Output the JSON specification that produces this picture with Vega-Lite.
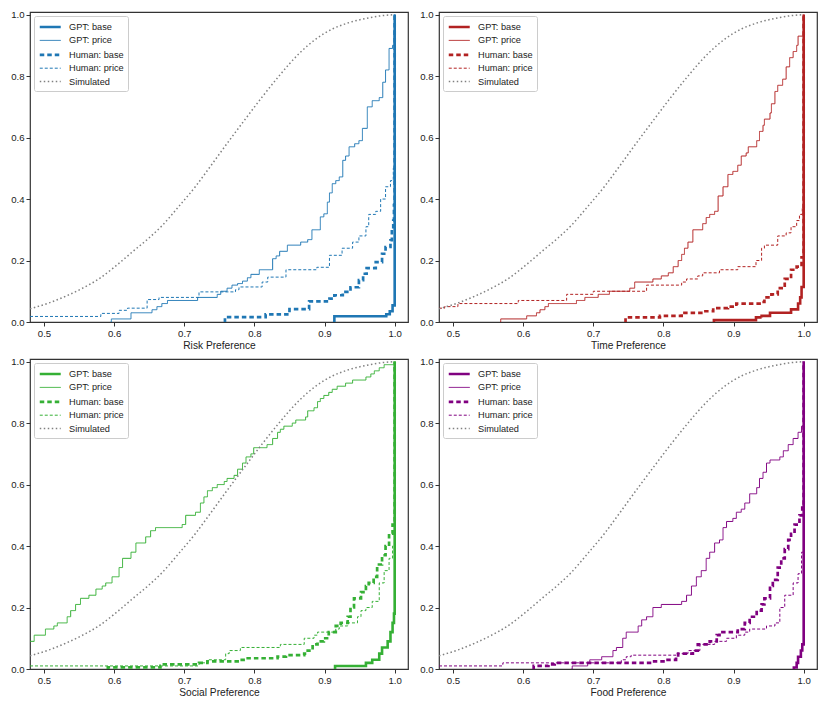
{
  "$schema": "https://vega.github.io/schema/vega-lite/v6.json",
  "padding": {"left": 10, "top": 9, "right": 4, "bottom": 4},
  "config": {
    "font": "Liberation Sans",
    "background": "white",
    "view": {"stroke": "#333333", "strokeWidth": 1.2},
    "axis": {
      "domain": false,
      "grid": false,
      "ticks": true,
      "tickColor": "#333333",
      "tickSize": 4,
      "tickWidth": 1,
      "labelFontSize": 9.6,
      "labelColor": "#222222",
      "labelPadding": 2,
      "titleFontSize": 10.2,
      "titleFontWeight": "normal",
      "titleColor": "#222222",
      "titlePadding": 3
    },
    "legend": {
      "orient": "top-left",
      "offset": 4,
      "title": null,
      "fillColor": "white",
      "strokeColor": "#cccccc",
      "padding": 4,
      "cornerRadius": 2,
      "labelFontSize": 9.2,
      "labelColor": "#222222",
      "symbolType": "M-1,0H3",
      "symbolSize": 110,
      "labelOffset": 17,
      "rowPadding": 1.4
    },
    "line": {"strokeCap": "butt"}
  },
  "datasets": {
    "sim": [
      {"x": 0.48, "y": 0.043}, {"x": 0.507, "y": 0.062}, {"x": 0.531, "y": 0.084},
      {"x": 0.555, "y": 0.11}, {"x": 0.578, "y": 0.14}, {"x": 0.6, "y": 0.178},
      {"x": 0.628, "y": 0.232}, {"x": 0.65, "y": 0.274}, {"x": 0.669, "y": 0.315},
      {"x": 0.69, "y": 0.37}, {"x": 0.716, "y": 0.441}, {"x": 0.74, "y": 0.515},
      {"x": 0.764, "y": 0.59}, {"x": 0.788, "y": 0.663}, {"x": 0.811, "y": 0.732},
      {"x": 0.835, "y": 0.8}, {"x": 0.85, "y": 0.84}, {"x": 0.864, "y": 0.874},
      {"x": 0.888, "y": 0.921}, {"x": 0.911, "y": 0.953}, {"x": 0.935, "y": 0.974},
      {"x": 0.96, "y": 0.988}, {"x": 0.98, "y": 0.996}, {"x": 1.0, "y": 1.0}
    ],
    "ecdf": [
      {"panel": "Risk", "series": "GPT: base", "x": 0.912, "y": 0},
      {"panel": "Risk", "series": "GPT: base", "x": 0.914, "y": 0.0185},
      {"panel": "Risk", "series": "GPT: base", "x": 0.988, "y": 0.025},
      {"panel": "Risk", "series": "GPT: base", "x": 0.993, "y": 0.035},
      {"panel": "Risk", "series": "GPT: base", "x": 0.997, "y": 0.054},
      {"panel": "Risk", "series": "GPT: base", "x": 1.0, "y": 1.0},

      {"panel": "Risk", "series": "GPT: price", "x": 0.595, "y": 0},
      {"panel": "Risk", "series": "GPT: price", "x": 0.596, "y": 0.01},
      {"panel": "Risk", "series": "GPT: price", "x": 0.624, "y": 0.03},
      {"panel": "Risk", "series": "GPT: price", "x": 0.654, "y": 0.04},
      {"panel": "Risk", "series": "GPT: price", "x": 0.661, "y": 0.05},
      {"panel": "Risk", "series": "GPT: price", "x": 0.668, "y": 0.06},
      {"panel": "Risk", "series": "GPT: price", "x": 0.676, "y": 0.07},
      {"panel": "Risk", "series": "GPT: price", "x": 0.719, "y": 0.08},
      {"panel": "Risk", "series": "GPT: price", "x": 0.747, "y": 0.09},
      {"panel": "Risk", "series": "GPT: price", "x": 0.752, "y": 0.1},
      {"panel": "Risk", "series": "GPT: price", "x": 0.761, "y": 0.11},
      {"panel": "Risk", "series": "GPT: price", "x": 0.768, "y": 0.12},
      {"panel": "Risk", "series": "GPT: price", "x": 0.776, "y": 0.125},
      {"panel": "Risk", "series": "GPT: price", "x": 0.783, "y": 0.133},
      {"panel": "Risk", "series": "GPT: price", "x": 0.79, "y": 0.144},
      {"panel": "Risk", "series": "GPT: price", "x": 0.795, "y": 0.155},
      {"panel": "Risk", "series": "GPT: price", "x": 0.807, "y": 0.17},
      {"panel": "Risk", "series": "GPT: price", "x": 0.826, "y": 0.206},
      {"panel": "Risk", "series": "GPT: price", "x": 0.831, "y": 0.215},
      {"panel": "Risk", "series": "GPT: price", "x": 0.836, "y": 0.23},
      {"panel": "Risk", "series": "GPT: price", "x": 0.847, "y": 0.25},
      {"panel": "Risk", "series": "GPT: price", "x": 0.866, "y": 0.26},
      {"panel": "Risk", "series": "GPT: price", "x": 0.876, "y": 0.268},
      {"panel": "Risk", "series": "GPT: price", "x": 0.882, "y": 0.3},
      {"panel": "Risk", "series": "GPT: price", "x": 0.894, "y": 0.342},
      {"panel": "Risk", "series": "GPT: price", "x": 0.899, "y": 0.352},
      {"panel": "Risk", "series": "GPT: price", "x": 0.904, "y": 0.39},
      {"panel": "Risk", "series": "GPT: price", "x": 0.907, "y": 0.42},
      {"panel": "Risk", "series": "GPT: price", "x": 0.911, "y": 0.45},
      {"panel": "Risk", "series": "GPT: price", "x": 0.916, "y": 0.46},
      {"panel": "Risk", "series": "GPT: price", "x": 0.921, "y": 0.472},
      {"panel": "Risk", "series": "GPT: price", "x": 0.926, "y": 0.526},
      {"panel": "Risk", "series": "GPT: price", "x": 0.93, "y": 0.54},
      {"panel": "Risk", "series": "GPT: price", "x": 0.935, "y": 0.57},
      {"panel": "Risk", "series": "GPT: price", "x": 0.943, "y": 0.58},
      {"panel": "Risk", "series": "GPT: price", "x": 0.949, "y": 0.59},
      {"panel": "Risk", "series": "GPT: price", "x": 0.954, "y": 0.63},
      {"panel": "Risk", "series": "GPT: price", "x": 0.961, "y": 0.7},
      {"panel": "Risk", "series": "GPT: price", "x": 0.968, "y": 0.72},
      {"panel": "Risk", "series": "GPT: price", "x": 0.978, "y": 0.73},
      {"panel": "Risk", "series": "GPT: price", "x": 0.983, "y": 0.78},
      {"panel": "Risk", "series": "GPT: price", "x": 0.987, "y": 0.82},
      {"panel": "Risk", "series": "GPT: price", "x": 0.992, "y": 0.89},
      {"panel": "Risk", "series": "GPT: price", "x": 0.997, "y": 0.9},
      {"panel": "Risk", "series": "GPT: price", "x": 0.999, "y": 0.95},
      {"panel": "Risk", "series": "GPT: price", "x": 1.0, "y": 1.0},

      {"panel": "Risk", "series": "Human: base", "x": 0.757, "y": 0},
      {"panel": "Risk", "series": "Human: base", "x": 0.758, "y": 0.016},
      {"panel": "Risk", "series": "Human: base", "x": 0.816, "y": 0.025},
      {"panel": "Risk", "series": "Human: base", "x": 0.85, "y": 0.042},
      {"panel": "Risk", "series": "Human: base", "x": 0.878, "y": 0.067},
      {"panel": "Risk", "series": "Human: base", "x": 0.907, "y": 0.076},
      {"panel": "Risk", "series": "Human: base", "x": 0.914, "y": 0.087},
      {"panel": "Risk", "series": "Human: base", "x": 0.926, "y": 0.098},
      {"panel": "Risk", "series": "Human: base", "x": 0.937, "y": 0.113},
      {"panel": "Risk", "series": "Human: base", "x": 0.949, "y": 0.136},
      {"panel": "Risk", "series": "Human: base", "x": 0.955, "y": 0.157},
      {"panel": "Risk", "series": "Human: base", "x": 0.96, "y": 0.175},
      {"panel": "Risk", "series": "Human: base", "x": 0.973, "y": 0.195},
      {"panel": "Risk", "series": "Human: base", "x": 0.982, "y": 0.222},
      {"panel": "Risk", "series": "Human: base", "x": 0.987, "y": 0.244},
      {"panel": "Risk", "series": "Human: base", "x": 0.994, "y": 0.266},
      {"panel": "Risk", "series": "Human: base", "x": 0.996, "y": 0.3},
      {"panel": "Risk", "series": "Human: base", "x": 0.998, "y": 0.33},
      {"panel": "Risk", "series": "Human: base", "x": 0.999, "y": 0.38},
      {"panel": "Risk", "series": "Human: base", "x": 1.0, "y": 1.0},

      {"panel": "Risk", "series": "Human: price", "x": 0.48, "y": 0.018},
      {"panel": "Risk", "series": "Human: price", "x": 0.581, "y": 0.028},
      {"panel": "Risk", "series": "Human: price", "x": 0.607, "y": 0.038},
      {"panel": "Risk", "series": "Human: price", "x": 0.619, "y": 0.045},
      {"panel": "Risk", "series": "Human: price", "x": 0.647, "y": 0.073},
      {"panel": "Risk", "series": "Human: price", "x": 0.664, "y": 0.08},
      {"panel": "Risk", "series": "Human: price", "x": 0.721, "y": 0.098},
      {"panel": "Risk", "series": "Human: price", "x": 0.773, "y": 0.105},
      {"panel": "Risk", "series": "Human: price", "x": 0.778, "y": 0.114},
      {"panel": "Risk", "series": "Human: price", "x": 0.811, "y": 0.13},
      {"panel": "Risk", "series": "Human: price", "x": 0.819, "y": 0.146},
      {"panel": "Risk", "series": "Human: price", "x": 0.845, "y": 0.17},
      {"panel": "Risk", "series": "Human: price", "x": 0.889, "y": 0.178},
      {"panel": "Risk", "series": "Human: price", "x": 0.907, "y": 0.217},
      {"panel": "Risk", "series": "Human: price", "x": 0.925, "y": 0.24},
      {"panel": "Risk", "series": "Human: price", "x": 0.94, "y": 0.26},
      {"panel": "Risk", "series": "Human: price", "x": 0.949, "y": 0.28},
      {"panel": "Risk", "series": "Human: price", "x": 0.959, "y": 0.31},
      {"panel": "Risk", "series": "Human: price", "x": 0.963, "y": 0.35},
      {"panel": "Risk", "series": "Human: price", "x": 0.973, "y": 0.36},
      {"panel": "Risk", "series": "Human: price", "x": 0.98, "y": 0.4},
      {"panel": "Risk", "series": "Human: price", "x": 0.987, "y": 0.44},
      {"panel": "Risk", "series": "Human: price", "x": 0.994, "y": 0.46},
      {"panel": "Risk", "series": "Human: price", "x": 0.998, "y": 0.5},
      {"panel": "Risk", "series": "Human: price", "x": 1.0, "y": 1.0},

      {"panel": "Time", "series": "GPT: base", "x": 0.871, "y": 0},
      {"panel": "Time", "series": "GPT: base", "x": 0.872, "y": 0.006},
      {"panel": "Time", "series": "GPT: base", "x": 0.932, "y": 0.015},
      {"panel": "Time", "series": "GPT: base", "x": 0.94, "y": 0.02},
      {"panel": "Time", "series": "GPT: base", "x": 0.952, "y": 0.03},
      {"panel": "Time", "series": "GPT: base", "x": 0.982, "y": 0.041},
      {"panel": "Time", "series": "GPT: base", "x": 0.992, "y": 0.06},
      {"panel": "Time", "series": "GPT: base", "x": 0.995, "y": 0.08},
      {"panel": "Time", "series": "GPT: base", "x": 0.997, "y": 0.114},
      {"panel": "Time", "series": "GPT: base", "x": 1.0, "y": 1.0},

      {"panel": "Time", "series": "GPT: price", "x": 0.567, "y": 0},
      {"panel": "Time", "series": "GPT: price", "x": 0.568, "y": 0.01},
      {"panel": "Time", "series": "GPT: price", "x": 0.605, "y": 0.02},
      {"panel": "Time", "series": "GPT: price", "x": 0.619, "y": 0.03},
      {"panel": "Time", "series": "GPT: price", "x": 0.624, "y": 0.04},
      {"panel": "Time", "series": "GPT: price", "x": 0.631, "y": 0.05},
      {"panel": "Time", "series": "GPT: price", "x": 0.636, "y": 0.06},
      {"panel": "Time", "series": "GPT: price", "x": 0.676, "y": 0.07},
      {"panel": "Time", "series": "GPT: price", "x": 0.688, "y": 0.08},
      {"panel": "Time", "series": "GPT: price", "x": 0.707, "y": 0.09},
      {"panel": "Time", "series": "GPT: price", "x": 0.723, "y": 0.1},
      {"panel": "Time", "series": "GPT: price", "x": 0.752, "y": 0.11},
      {"panel": "Time", "series": "GPT: price", "x": 0.759, "y": 0.13},
      {"panel": "Time", "series": "GPT: price", "x": 0.785, "y": 0.14},
      {"panel": "Time", "series": "GPT: price", "x": 0.797, "y": 0.15},
      {"panel": "Time", "series": "GPT: price", "x": 0.807, "y": 0.16},
      {"panel": "Time", "series": "GPT: price", "x": 0.814, "y": 0.18},
      {"panel": "Time", "series": "GPT: price", "x": 0.821, "y": 0.2},
      {"panel": "Time", "series": "GPT: price", "x": 0.826, "y": 0.22},
      {"panel": "Time", "series": "GPT: price", "x": 0.83, "y": 0.24},
      {"panel": "Time", "series": "GPT: price", "x": 0.835, "y": 0.26},
      {"panel": "Time", "series": "GPT: price", "x": 0.842, "y": 0.3},
      {"panel": "Time", "series": "GPT: price", "x": 0.856, "y": 0.32},
      {"panel": "Time", "series": "GPT: price", "x": 0.861, "y": 0.34},
      {"panel": "Time", "series": "GPT: price", "x": 0.866, "y": 0.35},
      {"panel": "Time", "series": "GPT: price", "x": 0.873, "y": 0.36},
      {"panel": "Time", "series": "GPT: price", "x": 0.878, "y": 0.41},
      {"panel": "Time", "series": "GPT: price", "x": 0.885, "y": 0.44},
      {"panel": "Time", "series": "GPT: price", "x": 0.892, "y": 0.48},
      {"panel": "Time", "series": "GPT: price", "x": 0.899, "y": 0.49},
      {"panel": "Time", "series": "GPT: price", "x": 0.906, "y": 0.51},
      {"panel": "Time", "series": "GPT: price", "x": 0.911, "y": 0.54},
      {"panel": "Time", "series": "GPT: price", "x": 0.918, "y": 0.55},
      {"panel": "Time", "series": "GPT: price", "x": 0.921, "y": 0.57},
      {"panel": "Time", "series": "GPT: price", "x": 0.933, "y": 0.59},
      {"panel": "Time", "series": "GPT: price", "x": 0.937, "y": 0.62},
      {"panel": "Time", "series": "GPT: price", "x": 0.942, "y": 0.64},
      {"panel": "Time", "series": "GPT: price", "x": 0.944, "y": 0.66},
      {"panel": "Time", "series": "GPT: price", "x": 0.952, "y": 0.68},
      {"panel": "Time", "series": "GPT: price", "x": 0.954, "y": 0.71},
      {"panel": "Time", "series": "GPT: price", "x": 0.959, "y": 0.75},
      {"panel": "Time", "series": "GPT: price", "x": 0.963, "y": 0.77},
      {"panel": "Time", "series": "GPT: price", "x": 0.97, "y": 0.79},
      {"panel": "Time", "series": "GPT: price", "x": 0.975, "y": 0.83},
      {"panel": "Time", "series": "GPT: price", "x": 0.98, "y": 0.86},
      {"panel": "Time", "series": "GPT: price", "x": 0.985, "y": 0.88},
      {"panel": "Time", "series": "GPT: price", "x": 0.99, "y": 0.9},
      {"panel": "Time", "series": "GPT: price", "x": 0.992, "y": 0.93},
      {"panel": "Time", "series": "GPT: price", "x": 1.0, "y": 1.0},

      {"panel": "Time", "series": "Human: base", "x": 0.745, "y": 0},
      {"panel": "Time", "series": "Human: base", "x": 0.746, "y": 0.015},
      {"panel": "Time", "series": "Human: base", "x": 0.795, "y": 0.02},
      {"panel": "Time", "series": "Human: base", "x": 0.826, "y": 0.03},
      {"panel": "Time", "series": "Human: base", "x": 0.854, "y": 0.035},
      {"panel": "Time", "series": "Human: base", "x": 0.871, "y": 0.045},
      {"panel": "Time", "series": "Human: base", "x": 0.892, "y": 0.05},
      {"panel": "Time", "series": "Human: base", "x": 0.904, "y": 0.06},
      {"panel": "Time", "series": "Human: base", "x": 0.94, "y": 0.065},
      {"panel": "Time", "series": "Human: base", "x": 0.944, "y": 0.08},
      {"panel": "Time", "series": "Human: base", "x": 0.954, "y": 0.09},
      {"panel": "Time", "series": "Human: base", "x": 0.963, "y": 0.11},
      {"panel": "Time", "series": "Human: base", "x": 0.973, "y": 0.14},
      {"panel": "Time", "series": "Human: base", "x": 0.982, "y": 0.17},
      {"panel": "Time", "series": "Human: base", "x": 0.99, "y": 0.18},
      {"panel": "Time", "series": "Human: base", "x": 0.997, "y": 0.21},
      {"panel": "Time", "series": "Human: base", "x": 1.0, "y": 1.0},

      {"panel": "Time", "series": "Human: price", "x": 0.48, "y": 0.045},
      {"panel": "Time", "series": "Human: price", "x": 0.488, "y": 0.05},
      {"panel": "Time", "series": "Human: price", "x": 0.507, "y": 0.06},
      {"panel": "Time", "series": "Human: price", "x": 0.593, "y": 0.07},
      {"panel": "Time", "series": "Human: price", "x": 0.662, "y": 0.09},
      {"panel": "Time", "series": "Human: price", "x": 0.7, "y": 0.1},
      {"panel": "Time", "series": "Human: price", "x": 0.776, "y": 0.12},
      {"panel": "Time", "series": "Human: price", "x": 0.826, "y": 0.13},
      {"panel": "Time", "series": "Human: price", "x": 0.833, "y": 0.14},
      {"panel": "Time", "series": "Human: price", "x": 0.849, "y": 0.15},
      {"panel": "Time", "series": "Human: price", "x": 0.856, "y": 0.16},
      {"panel": "Time", "series": "Human: price", "x": 0.88, "y": 0.17},
      {"panel": "Time", "series": "Human: price", "x": 0.906, "y": 0.18},
      {"panel": "Time", "series": "Human: price", "x": 0.932, "y": 0.2},
      {"panel": "Time", "series": "Human: price", "x": 0.94, "y": 0.24},
      {"panel": "Time", "series": "Human: price", "x": 0.944, "y": 0.25},
      {"panel": "Time", "series": "Human: price", "x": 0.963, "y": 0.28},
      {"panel": "Time", "series": "Human: price", "x": 0.975, "y": 0.29},
      {"panel": "Time", "series": "Human: price", "x": 0.982, "y": 0.31},
      {"panel": "Time", "series": "Human: price", "x": 0.99, "y": 0.33},
      {"panel": "Time", "series": "Human: price", "x": 0.994, "y": 0.35},
      {"panel": "Time", "series": "Human: price", "x": 0.998, "y": 0.37},
      {"panel": "Time", "series": "Human: price", "x": 1.0, "y": 1.0},

      {"panel": "Social", "series": "GPT: base", "x": 0.914, "y": 0},
      {"panel": "Social", "series": "GPT: base", "x": 0.915, "y": 0.01},
      {"panel": "Social", "series": "GPT: base", "x": 0.959, "y": 0.02},
      {"panel": "Social", "series": "GPT: base", "x": 0.968, "y": 0.03},
      {"panel": "Social", "series": "GPT: base", "x": 0.978, "y": 0.05},
      {"panel": "Social", "series": "GPT: base", "x": 0.982, "y": 0.07},
      {"panel": "Social", "series": "GPT: base", "x": 0.99, "y": 0.09},
      {"panel": "Social", "series": "GPT: base", "x": 0.994, "y": 0.12},
      {"panel": "Social", "series": "GPT: base", "x": 0.997, "y": 0.15},
      {"panel": "Social", "series": "GPT: base", "x": 0.999, "y": 0.18},
      {"panel": "Social", "series": "GPT: base", "x": 1.0, "y": 1.0},

      {"panel": "Social", "series": "GPT: price", "x": 0.48, "y": 0.09},
      {"panel": "Social", "series": "GPT: price", "x": 0.486, "y": 0.11},
      {"panel": "Social", "series": "GPT: price", "x": 0.502, "y": 0.13},
      {"panel": "Social", "series": "GPT: price", "x": 0.514, "y": 0.14},
      {"panel": "Social", "series": "GPT: price", "x": 0.519, "y": 0.15},
      {"panel": "Social", "series": "GPT: price", "x": 0.533, "y": 0.17},
      {"panel": "Social", "series": "GPT: price", "x": 0.538, "y": 0.19},
      {"panel": "Social", "series": "GPT: price", "x": 0.545, "y": 0.21},
      {"panel": "Social", "series": "GPT: price", "x": 0.552, "y": 0.23},
      {"panel": "Social", "series": "GPT: price", "x": 0.564, "y": 0.24},
      {"panel": "Social", "series": "GPT: price", "x": 0.574, "y": 0.26},
      {"panel": "Social", "series": "GPT: price", "x": 0.583, "y": 0.27},
      {"panel": "Social", "series": "GPT: price", "x": 0.588, "y": 0.28},
      {"panel": "Social", "series": "GPT: price", "x": 0.597, "y": 0.3},
      {"panel": "Social", "series": "GPT: price", "x": 0.607, "y": 0.33},
      {"panel": "Social", "series": "GPT: price", "x": 0.612, "y": 0.36},
      {"panel": "Social", "series": "GPT: price", "x": 0.624, "y": 0.38},
      {"panel": "Social", "series": "GPT: price", "x": 0.631, "y": 0.41},
      {"panel": "Social", "series": "GPT: price", "x": 0.645, "y": 0.43},
      {"panel": "Social", "series": "GPT: price", "x": 0.652, "y": 0.45},
      {"panel": "Social", "series": "GPT: price", "x": 0.659, "y": 0.46},
      {"panel": "Social", "series": "GPT: price", "x": 0.697, "y": 0.47},
      {"panel": "Social", "series": "GPT: price", "x": 0.702, "y": 0.5},
      {"panel": "Social", "series": "GPT: price", "x": 0.716, "y": 0.51},
      {"panel": "Social", "series": "GPT: price", "x": 0.723, "y": 0.54},
      {"panel": "Social", "series": "GPT: price", "x": 0.728, "y": 0.56},
      {"panel": "Social", "series": "GPT: price", "x": 0.733, "y": 0.58},
      {"panel": "Social", "series": "GPT: price", "x": 0.74, "y": 0.59},
      {"panel": "Social", "series": "GPT: price", "x": 0.747, "y": 0.6},
      {"panel": "Social", "series": "GPT: price", "x": 0.757, "y": 0.61},
      {"panel": "Social", "series": "GPT: price", "x": 0.761, "y": 0.62},
      {"panel": "Social", "series": "GPT: price", "x": 0.771, "y": 0.63},
      {"panel": "Social", "series": "GPT: price", "x": 0.776, "y": 0.65},
      {"panel": "Social", "series": "GPT: price", "x": 0.783, "y": 0.67},
      {"panel": "Social", "series": "GPT: price", "x": 0.788, "y": 0.69},
      {"panel": "Social", "series": "GPT: price", "x": 0.795, "y": 0.7},
      {"panel": "Social", "series": "GPT: price", "x": 0.799, "y": 0.72},
      {"panel": "Social", "series": "GPT: price", "x": 0.818, "y": 0.73},
      {"panel": "Social", "series": "GPT: price", "x": 0.826, "y": 0.75},
      {"panel": "Social", "series": "GPT: price", "x": 0.833, "y": 0.77},
      {"panel": "Social", "series": "GPT: price", "x": 0.837, "y": 0.78},
      {"panel": "Social", "series": "GPT: price", "x": 0.842, "y": 0.79},
      {"panel": "Social", "series": "GPT: price", "x": 0.854, "y": 0.8},
      {"panel": "Social", "series": "GPT: price", "x": 0.859, "y": 0.81},
      {"panel": "Social", "series": "GPT: price", "x": 0.873, "y": 0.82},
      {"panel": "Social", "series": "GPT: price", "x": 0.876, "y": 0.84},
      {"panel": "Social", "series": "GPT: price", "x": 0.885, "y": 0.85},
      {"panel": "Social", "series": "GPT: price", "x": 0.89, "y": 0.87},
      {"panel": "Social", "series": "GPT: price", "x": 0.894, "y": 0.88},
      {"panel": "Social", "series": "GPT: price", "x": 0.899, "y": 0.89},
      {"panel": "Social", "series": "GPT: price", "x": 0.906, "y": 0.9},
      {"panel": "Social", "series": "GPT: price", "x": 0.911, "y": 0.91},
      {"panel": "Social", "series": "GPT: price", "x": 0.918, "y": 0.92},
      {"panel": "Social", "series": "GPT: price", "x": 0.93, "y": 0.93},
      {"panel": "Social", "series": "GPT: price", "x": 0.94, "y": 0.94},
      {"panel": "Social", "series": "GPT: price", "x": 0.959, "y": 0.95},
      {"panel": "Social", "series": "GPT: price", "x": 0.966, "y": 0.96},
      {"panel": "Social", "series": "GPT: price", "x": 0.971, "y": 0.97},
      {"panel": "Social", "series": "GPT: price", "x": 0.978, "y": 0.98},
      {"panel": "Social", "series": "GPT: price", "x": 0.985, "y": 0.99},
      {"panel": "Social", "series": "GPT: price", "x": 1.0, "y": 1.0},

      {"panel": "Social", "series": "Human: base", "x": 0.59, "y": 0},
      {"panel": "Social", "series": "Human: base", "x": 0.591, "y": 0.005},
      {"panel": "Social", "series": "Human: base", "x": 0.666, "y": 0.01},
      {"panel": "Social", "series": "Human: base", "x": 0.668, "y": 0.015},
      {"panel": "Social", "series": "Human: base", "x": 0.721, "y": 0.02},
      {"panel": "Social", "series": "Human: base", "x": 0.733, "y": 0.025},
      {"panel": "Social", "series": "Human: base", "x": 0.778, "y": 0.03},
      {"panel": "Social", "series": "Human: base", "x": 0.788, "y": 0.035},
      {"panel": "Social", "series": "Human: base", "x": 0.833, "y": 0.04},
      {"panel": "Social", "series": "Human: base", "x": 0.845, "y": 0.045},
      {"panel": "Social", "series": "Human: base", "x": 0.871, "y": 0.05},
      {"panel": "Social", "series": "Human: base", "x": 0.876, "y": 0.06},
      {"panel": "Social", "series": "Human: base", "x": 0.883, "y": 0.08},
      {"panel": "Social", "series": "Human: base", "x": 0.89, "y": 0.09},
      {"panel": "Social", "series": "Human: base", "x": 0.899, "y": 0.1},
      {"panel": "Social", "series": "Human: base", "x": 0.906, "y": 0.12},
      {"panel": "Social", "series": "Human: base", "x": 0.916, "y": 0.14},
      {"panel": "Social", "series": "Human: base", "x": 0.923, "y": 0.15},
      {"panel": "Social", "series": "Human: base", "x": 0.933, "y": 0.17},
      {"panel": "Social", "series": "Human: base", "x": 0.937, "y": 0.2},
      {"panel": "Social", "series": "Human: base", "x": 0.942, "y": 0.23},
      {"panel": "Social", "series": "Human: base", "x": 0.952, "y": 0.25},
      {"panel": "Social", "series": "Human: base", "x": 0.959, "y": 0.27},
      {"panel": "Social", "series": "Human: base", "x": 0.963, "y": 0.28},
      {"panel": "Social", "series": "Human: base", "x": 0.97, "y": 0.3},
      {"panel": "Social", "series": "Human: base", "x": 0.975, "y": 0.34},
      {"panel": "Social", "series": "Human: base", "x": 0.982, "y": 0.37},
      {"panel": "Social", "series": "Human: base", "x": 0.987, "y": 0.4},
      {"panel": "Social", "series": "Human: base", "x": 0.992, "y": 0.44},
      {"panel": "Social", "series": "Human: base", "x": 0.997, "y": 0.47},
      {"panel": "Social", "series": "Human: base", "x": 1.0, "y": 1.0},

      {"panel": "Social", "series": "Human: price", "x": 0.48, "y": 0.01},
      {"panel": "Social", "series": "Human: price", "x": 0.721, "y": 0.02},
      {"panel": "Social", "series": "Human: price", "x": 0.733, "y": 0.03},
      {"panel": "Social", "series": "Human: price", "x": 0.759, "y": 0.05},
      {"panel": "Social", "series": "Human: price", "x": 0.764, "y": 0.06},
      {"panel": "Social", "series": "Human: price", "x": 0.78, "y": 0.07},
      {"panel": "Social", "series": "Human: price", "x": 0.837, "y": 0.08},
      {"panel": "Social", "series": "Human: price", "x": 0.871, "y": 0.1},
      {"panel": "Social", "series": "Human: price", "x": 0.885, "y": 0.11},
      {"panel": "Social", "series": "Human: price", "x": 0.89, "y": 0.12},
      {"panel": "Social", "series": "Human: price", "x": 0.916, "y": 0.13},
      {"panel": "Social", "series": "Human: price", "x": 0.921, "y": 0.14},
      {"panel": "Social", "series": "Human: price", "x": 0.933, "y": 0.15},
      {"panel": "Social", "series": "Human: price", "x": 0.947, "y": 0.17},
      {"panel": "Social", "series": "Human: price", "x": 0.952, "y": 0.19},
      {"panel": "Social", "series": "Human: price", "x": 0.959, "y": 0.2},
      {"panel": "Social", "series": "Human: price", "x": 0.968, "y": 0.22},
      {"panel": "Social", "series": "Human: price", "x": 0.978, "y": 0.28},
      {"panel": "Social", "series": "Human: price", "x": 0.985, "y": 0.32},
      {"panel": "Social", "series": "Human: price", "x": 0.992, "y": 0.36},
      {"panel": "Social", "series": "Human: price", "x": 0.997, "y": 0.4},
      {"panel": "Social", "series": "Human: price", "x": 1.0, "y": 1.0},

      {"panel": "Food", "series": "GPT: base", "x": 0.985, "y": 0},
      {"panel": "Food", "series": "GPT: base", "x": 0.986, "y": 0.005},
      {"panel": "Food", "series": "GPT: base", "x": 0.99, "y": 0.02},
      {"panel": "Food", "series": "GPT: base", "x": 0.992, "y": 0.04},
      {"panel": "Food", "series": "GPT: base", "x": 0.996, "y": 0.06},
      {"panel": "Food", "series": "GPT: base", "x": 0.998, "y": 0.08},
      {"panel": "Food", "series": "GPT: base", "x": 1.0, "y": 1.0},

      {"panel": "Food", "series": "GPT: price", "x": 0.669, "y": 0},
      {"panel": "Food", "series": "GPT: price", "x": 0.67, "y": 0.01},
      {"panel": "Food", "series": "GPT: price", "x": 0.692, "y": 0.02},
      {"panel": "Food", "series": "GPT: price", "x": 0.695, "y": 0.03},
      {"panel": "Food", "series": "GPT: price", "x": 0.712, "y": 0.04},
      {"panel": "Food", "series": "GPT: price", "x": 0.728, "y": 0.06},
      {"panel": "Food", "series": "GPT: price", "x": 0.733, "y": 0.07},
      {"panel": "Food", "series": "GPT: price", "x": 0.742, "y": 0.1},
      {"panel": "Food", "series": "GPT: price", "x": 0.747, "y": 0.12},
      {"panel": "Food", "series": "GPT: price", "x": 0.764, "y": 0.14},
      {"panel": "Food", "series": "GPT: price", "x": 0.769, "y": 0.16},
      {"panel": "Food", "series": "GPT: price", "x": 0.776, "y": 0.17},
      {"panel": "Food", "series": "GPT: price", "x": 0.785, "y": 0.2},
      {"panel": "Food", "series": "GPT: price", "x": 0.797, "y": 0.21},
      {"panel": "Food", "series": "GPT: price", "x": 0.826, "y": 0.22},
      {"panel": "Food", "series": "GPT: price", "x": 0.833, "y": 0.24},
      {"panel": "Food", "series": "GPT: price", "x": 0.84, "y": 0.27},
      {"panel": "Food", "series": "GPT: price", "x": 0.847, "y": 0.3},
      {"panel": "Food", "series": "GPT: price", "x": 0.854, "y": 0.32},
      {"panel": "Food", "series": "GPT: price", "x": 0.861, "y": 0.36},
      {"panel": "Food", "series": "GPT: price", "x": 0.866, "y": 0.38},
      {"panel": "Food", "series": "GPT: price", "x": 0.873, "y": 0.41},
      {"panel": "Food", "series": "GPT: price", "x": 0.88, "y": 0.42},
      {"panel": "Food", "series": "GPT: price", "x": 0.885, "y": 0.46},
      {"panel": "Food", "series": "GPT: price", "x": 0.89, "y": 0.48},
      {"panel": "Food", "series": "GPT: price", "x": 0.899, "y": 0.49},
      {"panel": "Food", "series": "GPT: price", "x": 0.904, "y": 0.51},
      {"panel": "Food", "series": "GPT: price", "x": 0.911, "y": 0.52},
      {"panel": "Food", "series": "GPT: price", "x": 0.916, "y": 0.54},
      {"panel": "Food", "series": "GPT: price", "x": 0.923, "y": 0.57},
      {"panel": "Food", "series": "GPT: price", "x": 0.933, "y": 0.59},
      {"panel": "Food", "series": "GPT: price", "x": 0.937, "y": 0.62},
      {"panel": "Food", "series": "GPT: price", "x": 0.942, "y": 0.64},
      {"panel": "Food", "series": "GPT: price", "x": 0.947, "y": 0.67},
      {"panel": "Food", "series": "GPT: price", "x": 0.952, "y": 0.68},
      {"panel": "Food", "series": "GPT: price", "x": 0.966, "y": 0.69},
      {"panel": "Food", "series": "GPT: price", "x": 0.971, "y": 0.71},
      {"panel": "Food", "series": "GPT: price", "x": 0.978, "y": 0.73},
      {"panel": "Food", "series": "GPT: price", "x": 0.985, "y": 0.75},
      {"panel": "Food", "series": "GPT: price", "x": 0.992, "y": 0.77},
      {"panel": "Food", "series": "GPT: price", "x": 0.997, "y": 0.79},
      {"panel": "Food", "series": "GPT: price", "x": 1.0, "y": 1.0},

      {"panel": "Food", "series": "Human: base", "x": 0.614, "y": 0},
      {"panel": "Food", "series": "Human: base", "x": 0.615, "y": 0.01},
      {"panel": "Food", "series": "Human: base", "x": 0.636, "y": 0.015},
      {"panel": "Food", "series": "Human: base", "x": 0.645, "y": 0.02},
      {"panel": "Food", "series": "Human: base", "x": 0.783, "y": 0.025},
      {"panel": "Food", "series": "Human: base", "x": 0.804, "y": 0.03},
      {"panel": "Food", "series": "Human: base", "x": 0.818, "y": 0.04},
      {"panel": "Food", "series": "Human: base", "x": 0.821, "y": 0.05},
      {"panel": "Food", "series": "Human: base", "x": 0.842, "y": 0.06},
      {"panel": "Food", "series": "Human: base", "x": 0.849, "y": 0.08},
      {"panel": "Food", "series": "Human: base", "x": 0.866, "y": 0.09},
      {"panel": "Food", "series": "Human: base", "x": 0.876, "y": 0.11},
      {"panel": "Food", "series": "Human: base", "x": 0.88, "y": 0.12},
      {"panel": "Food", "series": "Human: base", "x": 0.906, "y": 0.13},
      {"panel": "Food", "series": "Human: base", "x": 0.916, "y": 0.15},
      {"panel": "Food", "series": "Human: base", "x": 0.923, "y": 0.17},
      {"panel": "Food", "series": "Human: base", "x": 0.933, "y": 0.19},
      {"panel": "Food", "series": "Human: base", "x": 0.94, "y": 0.21},
      {"panel": "Food", "series": "Human: base", "x": 0.944, "y": 0.23},
      {"panel": "Food", "series": "Human: base", "x": 0.952, "y": 0.27},
      {"panel": "Food", "series": "Human: base", "x": 0.956, "y": 0.29},
      {"panel": "Food", "series": "Human: base", "x": 0.963, "y": 0.33},
      {"panel": "Food", "series": "Human: base", "x": 0.968, "y": 0.36},
      {"panel": "Food", "series": "Human: base", "x": 0.973, "y": 0.39},
      {"panel": "Food", "series": "Human: base", "x": 0.978, "y": 0.42},
      {"panel": "Food", "series": "Human: base", "x": 0.982, "y": 0.44},
      {"panel": "Food", "series": "Human: base", "x": 0.987, "y": 0.47},
      {"panel": "Food", "series": "Human: base", "x": 0.994, "y": 0.5},
      {"panel": "Food", "series": "Human: base", "x": 0.998, "y": 0.53},
      {"panel": "Food", "series": "Human: base", "x": 1.0, "y": 1.0},

      {"panel": "Food", "series": "Human: price", "x": 0.48, "y": 0.01},
      {"panel": "Food", "series": "Human: price", "x": 0.571, "y": 0.02},
      {"panel": "Food", "series": "Human: price", "x": 0.74, "y": 0.03},
      {"panel": "Food", "series": "Human: price", "x": 0.747, "y": 0.04},
      {"panel": "Food", "series": "Human: price", "x": 0.754, "y": 0.045},
      {"panel": "Food", "series": "Human: price", "x": 0.818, "y": 0.05},
      {"panel": "Food", "series": "Human: price", "x": 0.835, "y": 0.06},
      {"panel": "Food", "series": "Human: price", "x": 0.852, "y": 0.08},
      {"panel": "Food", "series": "Human: price", "x": 0.873, "y": 0.09},
      {"panel": "Food", "series": "Human: price", "x": 0.89, "y": 0.1},
      {"panel": "Food", "series": "Human: price", "x": 0.904, "y": 0.11},
      {"panel": "Food", "series": "Human: price", "x": 0.916, "y": 0.12},
      {"panel": "Food", "series": "Human: price", "x": 0.923, "y": 0.13},
      {"panel": "Food", "series": "Human: price", "x": 0.947, "y": 0.14},
      {"panel": "Food", "series": "Human: price", "x": 0.959, "y": 0.15},
      {"panel": "Food", "series": "Human: price", "x": 0.966, "y": 0.2},
      {"panel": "Food", "series": "Human: price", "x": 0.973, "y": 0.24},
      {"panel": "Food", "series": "Human: price", "x": 0.985, "y": 0.28},
      {"panel": "Food", "series": "Human: price", "x": 0.992, "y": 0.31},
      {"panel": "Food", "series": "Human: price", "x": 0.997, "y": 0.38},
      {"panel": "Food", "series": "Human: price", "x": 1.0, "y": 1.0}
    ]
  },
  "columns": 2,
  "spacing": {"row": 4, "column": 10},
  "resolve": {
    "scale": {"color": "independent", "strokeDash": "independent", "strokeWidth": "independent"},
    "legend": {"color": "independent", "strokeDash": "independent", "strokeWidth": "independent"}
  },
  "concat": [
    {
      "width": 378,
      "height": 310,
      "encoding": {
        "x": {"field": "x", "type": "quantitative", "scale": {"domain": [0.48, 1.019], "nice": false, "zero": false}, "axis": {"title": "Risk Preference", "values": [0.5, 0.6, 0.7, 0.8, 0.9, 1.0], "format": ".1f"}},
        "y": {"field": "y", "type": "quantitative", "scale": {"domain": [0, 1.0085], "nice": false}, "axis": {"title": null, "values": [0, 0.2, 0.4, 0.6, 0.8, 1.0], "format": ".1f"}},
        "color": {"field": "series", "type": "nominal", "scale": {"domain": ["GPT: base", "GPT: price", "Human: base", "Human: price", "Simulated"], "range": ["#1f77b4", "#1f77b4", "#1f77b4", "#1f77b4", "#808080"]}},
        "strokeDash": {"field": "series", "type": "nominal", "scale": {"domain": ["GPT: base", "GPT: price", "Human: base", "Human: price", "Simulated"], "range": [[1, 0], [1, 0], [4.5, 3], [3, 2], [1.5, 2.5]]}},
        "strokeWidth": {"field": "series", "type": "nominal", "scale": {"type": "ordinal", "domain": ["GPT: base", "GPT: price", "Human: base", "Human: price", "Simulated"], "range": [2.6, 1, 2.7, 1, 1.5]}}
      },
      "layer": [
        {"data": {"name": "ecdf"}, "transform": [{"filter": "datum.panel == 'Risk'"}], "mark": {"type": "line", "interpolate": "step-after", "clip": true}},
        {"data": {"name": "sim"}, "transform": [{"calculate": "'Simulated'", "as": "series"}], "mark": {"type": "line", "interpolate": "monotone", "clip": true}}
      ]
    },
    {
      "width": 378,
      "height": 310,
      "encoding": {
        "x": {"field": "x", "type": "quantitative", "scale": {"domain": [0.48, 1.019], "nice": false, "zero": false}, "axis": {"title": "Time Preference", "values": [0.5, 0.6, 0.7, 0.8, 0.9, 1.0], "format": ".1f"}},
        "y": {"field": "y", "type": "quantitative", "scale": {"domain": [0, 1.0085], "nice": false}, "axis": {"title": null, "values": [0, 0.2, 0.4, 0.6, 0.8, 1.0], "format": ".1f"}},
        "color": {"field": "series", "type": "nominal", "scale": {"domain": ["GPT: base", "GPT: price", "Human: base", "Human: price", "Simulated"], "range": ["#b22222", "#b22222", "#b22222", "#b22222", "#808080"]}},
        "strokeDash": {"field": "series", "type": "nominal", "scale": {"domain": ["GPT: base", "GPT: price", "Human: base", "Human: price", "Simulated"], "range": [[1, 0], [1, 0], [4.5, 3], [3, 2], [1.5, 2.5]]}},
        "strokeWidth": {"field": "series", "type": "nominal", "scale": {"type": "ordinal", "domain": ["GPT: base", "GPT: price", "Human: base", "Human: price", "Simulated"], "range": [2.6, 1, 2.7, 1, 1.5]}}
      },
      "layer": [
        {"data": {"name": "ecdf"}, "transform": [{"filter": "datum.panel == 'Time'"}], "mark": {"type": "line", "interpolate": "step-after", "clip": true}},
        {"data": {"name": "sim"}, "transform": [{"calculate": "'Simulated'", "as": "series"}], "mark": {"type": "line", "interpolate": "monotone", "clip": true}}
      ]
    },
    {
      "width": 378,
      "height": 310,
      "encoding": {
        "x": {"field": "x", "type": "quantitative", "scale": {"domain": [0.48, 1.019], "nice": false, "zero": false}, "axis": {"title": "Social Preference", "values": [0.5, 0.6, 0.7, 0.8, 0.9, 1.0], "format": ".1f"}},
        "y": {"field": "y", "type": "quantitative", "scale": {"domain": [0, 1.0085], "nice": false}, "axis": {"title": null, "values": [0, 0.2, 0.4, 0.6, 0.8, 1.0], "format": ".1f"}},
        "color": {"field": "series", "type": "nominal", "scale": {"domain": ["GPT: base", "GPT: price", "Human: base", "Human: price", "Simulated"], "range": ["#35b035", "#35b035", "#35b035", "#35b035", "#808080"]}},
        "strokeDash": {"field": "series", "type": "nominal", "scale": {"domain": ["GPT: base", "GPT: price", "Human: base", "Human: price", "Simulated"], "range": [[1, 0], [1, 0], [4.5, 3], [3, 2], [1.5, 2.5]]}},
        "strokeWidth": {"field": "series", "type": "nominal", "scale": {"type": "ordinal", "domain": ["GPT: base", "GPT: price", "Human: base", "Human: price", "Simulated"], "range": [2.6, 1, 2.7, 1, 1.5]}}
      },
      "layer": [
        {"data": {"name": "ecdf"}, "transform": [{"filter": "datum.panel == 'Social'"}], "mark": {"type": "line", "interpolate": "step-after", "clip": true}},
        {"data": {"name": "sim"}, "transform": [{"calculate": "'Simulated'", "as": "series"}], "mark": {"type": "line", "interpolate": "monotone", "clip": true}}
      ]
    },
    {
      "width": 378,
      "height": 310,
      "encoding": {
        "x": {"field": "x", "type": "quantitative", "scale": {"domain": [0.48, 1.019], "nice": false, "zero": false}, "axis": {"title": "Food Preference", "values": [0.5, 0.6, 0.7, 0.8, 0.9, 1.0], "format": ".1f"}},
        "y": {"field": "y", "type": "quantitative", "scale": {"domain": [0, 1.0085], "nice": false}, "axis": {"title": null, "values": [0, 0.2, 0.4, 0.6, 0.8, 1.0], "format": ".1f"}},
        "color": {"field": "series", "type": "nominal", "scale": {"domain": ["GPT: base", "GPT: price", "Human: base", "Human: price", "Simulated"], "range": ["#800080", "#800080", "#800080", "#800080", "#808080"]}},
        "strokeDash": {"field": "series", "type": "nominal", "scale": {"domain": ["GPT: base", "GPT: price", "Human: base", "Human: price", "Simulated"], "range": [[1, 0], [1, 0], [4.5, 3], [3, 2], [1.5, 2.5]]}},
        "strokeWidth": {"field": "series", "type": "nominal", "scale": {"type": "ordinal", "domain": ["GPT: base", "GPT: price", "Human: base", "Human: price", "Simulated"], "range": [2.6, 1, 2.7, 1, 1.5]}}
      },
      "layer": [
        {"data": {"name": "ecdf"}, "transform": [{"filter": "datum.panel == 'Food'"}], "mark": {"type": "line", "interpolate": "step-after", "clip": true}},
        {"data": {"name": "sim"}, "transform": [{"calculate": "'Simulated'", "as": "series"}], "mark": {"type": "line", "interpolate": "monotone", "clip": true}}
      ]
    }
  ]
}
